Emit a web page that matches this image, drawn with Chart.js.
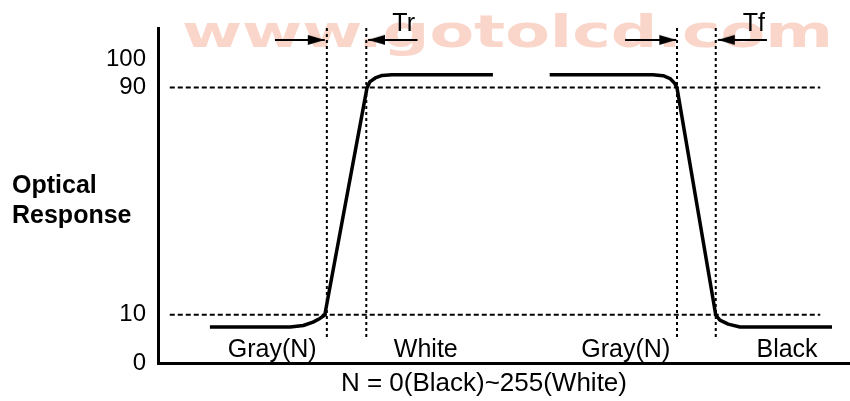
<!DOCTYPE html>
<html>
<head>
<meta charset="utf-8">
<script src="https://cdn.jsdelivr.net/npm/chart.js@4.4.1/dist/chart.umd.min.js"></script>
<style>
  html, body { margin: 0; padding: 0; background: #fff; }
  canvas { display: block; }
</style>
</head>
<body>
<canvas id="responseChart" width="850" height="401"></canvas>
<script>
// time axis runs 0..100 (arbitrary units), optical response axis in %
const riseX = [7.5, 19.1, 21.0, 22.4, 23.4, 24.1, 30.2, 30.6, 31.4, 32.4, 33.8, 48.4];
const riseY = [5.7, 5.7, 6.2, 7.4, 8.7, 9.9, 89.9, 92.0, 93.4, 94.3, 94.5, 94.5];
const fallX = [56.6, 71.5, 73.0, 74.0, 74.7, 75.0, 80.6, 81.2, 82.4, 84.1, 86.0, 97.4];
const fallY = [94.5, 94.5, 94.2, 93.2, 91.4, 89.9, 9.9, 8.1, 6.7, 5.7, 5.7, 5.7];

const refLevels = [10, 90];
const refSpan = [1.7, 95.7];
const edgeX = [24.4, 30.1, 75.0, 80.6];
const edgeSpan = [2.2, 111];

const arrowY = 106.8;
const arrowFrom = [16.9, 37.5, 67.5, 88.0];
const arrowTo = [24.1, 30.35, 74.9, 80.9];

const regionLabels = ['Gray(N)', 'White', 'Gray(N)', 'Black'];
const regionX = [16.5, 38.7, 67.6, 90.9];
const timeLabels = ['Tr', 'Tf'];
const timeLabelX = [35.5, 86.1];

const yTickValues = [-7, 10, 90, 100];
const yTickLabels = ['0', '10', '90', '100'];

const FONT = '"Liberation Sans", Arial, sans-serif';

// arrowhead image, tip at the centre so it lands on the end point
const arrowHead = document.createElement('canvas');
arrowHead.width = 36;
arrowHead.height = 12;
(function () {
  const c = arrowHead.getContext('2d');
  c.fillStyle = '#000';
  c.beginPath();
  c.moveTo(1, 1);
  c.lineTo(18, 6);
  c.lineTo(1, 11);
  c.closePath();
  c.fill();
})();

const toPoints = (xs, ys) => xs.map((x, i) => ({ x: x, y: ys[i] }));

const datasets = [];

refLevels.forEach(level => {
  datasets.push({
    data: refSpan.map(x => ({ x: x, y: level })),
    borderColor: '#000', borderWidth: 2, borderDash: [5, 3],
    showLine: true, pointRadius: 0
  });
});

edgeX.forEach(x => {
  datasets.push({
    data: edgeSpan.map(y => ({ x: x, y: y })),
    borderColor: '#000', borderWidth: 2, borderDash: [3, 3],
    showLine: true, pointRadius: 0
  });
});

arrowFrom.forEach((from, i) => {
  datasets.push({
    data: [{ x: from, y: arrowY }, { x: arrowTo[i], y: arrowY }],
    borderColor: '#000', borderWidth: 2,
    showLine: true,
    pointRadius: [0, 8],
    pointStyle: arrowHead,
    pointRotation: arrowTo[i] > from ? 0 : 180
  });
});

[toPoints(riseX, riseY), toPoints(fallX, fallY)].forEach(pts => {
  datasets.push({
    data: pts,
    borderColor: '#000', borderWidth: 3.5,
    borderJoinStyle: 'round', tension: 0,
    showLine: true, pointRadius: 0
  });
});

const annotate = {
  id: 'annotate',
  beforeDatasetsDraw(chart) {
    const ctx = chart.ctx;
    const text = 'www.gotolcd.com';
    ctx.save();
    ctx.font = 'bold 45px "DejaVu Sans"';
    ctx.fillStyle = '#fad6ca';
    ctx.textBaseline = 'alphabetic';
    const w = ctx.measureText(text).width;
    ctx.translate(182, 47);
    ctx.scale(651 / w, 1);
    ctx.fillText(text, 0, 0);
    ctx.restore();
  },
  afterDraw(chart) {
    const ctx = chart.ctx;
    const xs = chart.scales.x;
    const area = chart.chartArea;
    ctx.save();
    ctx.fillStyle = '#000';
    ctx.textBaseline = 'alphabetic';

    ctx.font = '25px ' + FONT;
    ctx.textAlign = 'center';
    regionLabels.forEach((label, i) => {
      ctx.fillText(label, xs.getPixelForValue(regionX[i]), area.bottom - 6);
    });
    timeLabels.forEach((label, i) => {
      ctx.fillText(label, xs.getPixelForValue(timeLabelX[i]), area.top + 3);
    });

    ctx.font = '26px ' + FONT;
    ctx.fillText('N = 0(Black)~255(White)', xs.getPixelForValue(47.1), area.bottom + 28);

    ctx.font = 'bold 25px ' + FONT;
    ctx.textAlign = 'left';
    ctx.fillText('Optical', 12, 193);
    ctx.fillText('Response', 12, 223);
    ctx.restore();
  }
};

new Chart(document.getElementById('responseChart'), {
  type: 'scatter',
  data: { datasets: datasets },
  options: {
    responsive: false,
    animation: false,
    devicePixelRatio: 1,
    layout: { autoPadding: false, padding: { top: 28, right: 0, bottom: 0, left: 0 } },
    plugins: { legend: { display: false }, tooltip: { enabled: false } },
    scales: {
      x: {
        type: 'linear', min: 0, max: 100,
        ticks: { display: false },
        grid: { display: false, drawTicks: false },
        border: { display: true, color: '#000', width: 3 },
        afterFit(scale) { scale.height = 38; }
      },
      y: {
        type: 'linear', min: -7, max: 111,
        afterBuildTicks(scale) {
          scale.ticks = yTickValues.map(v => ({ value: v }));
        },
        ticks: {
          color: '#000',
          padding: 12,
          font: { family: FONT, size: 24 },
          callback: v => yTickLabels[yTickValues.indexOf(v)]
        },
        grid: { display: false, drawTicks: false },
        border: { display: true, color: '#000', width: 3 },
        afterFit(scale) { scale.width = 158; }
      }
    }
  },
  plugins: [annotate]
});
</script>
</body>
</html>
